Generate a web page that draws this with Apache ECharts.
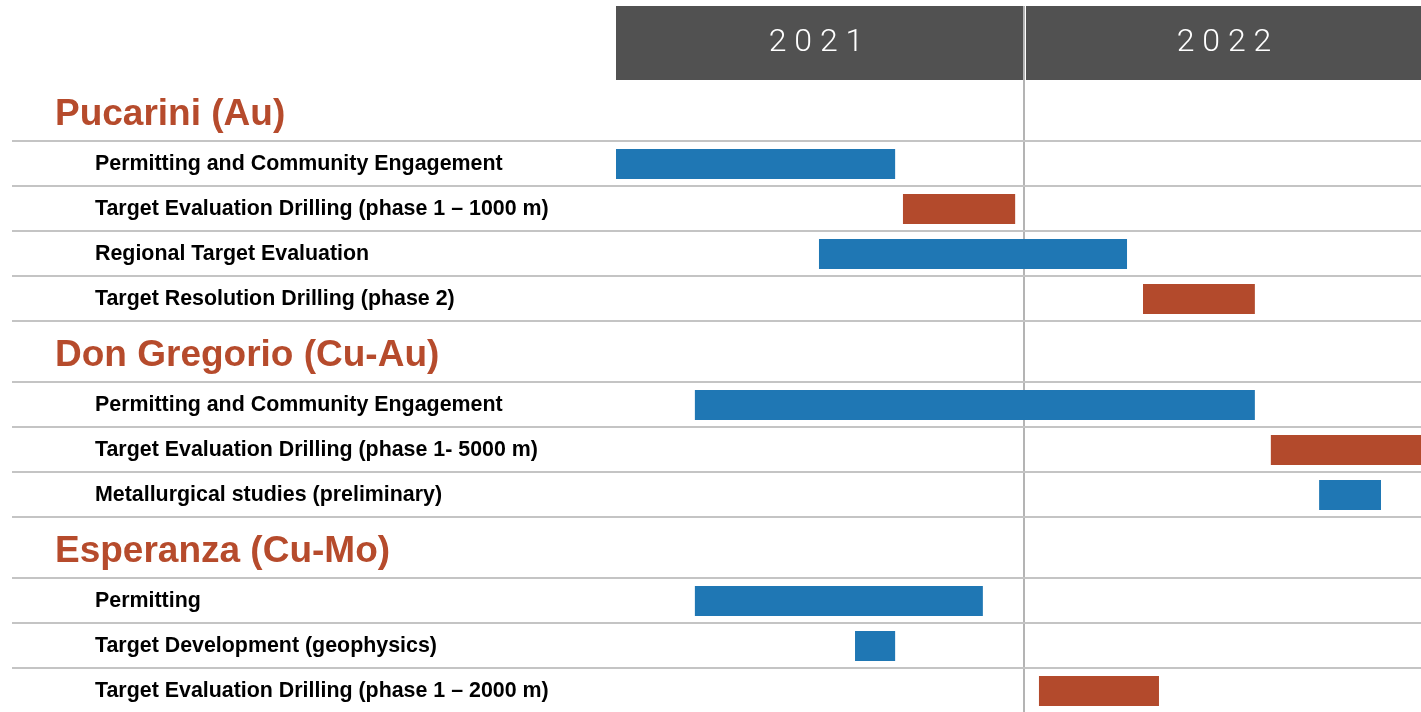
<!DOCTYPE html>
<html><head><meta charset="utf-8">
<script src="https://cdn.jsdelivr.net/npm/echarts@6/dist/echarts.min.js"></script>
<style>html,body{margin:0;padding:0;background:#fff}#chart{width:1421px;height:712px}</style>
</head><body><div id="chart"></div>
<script>
// ---- data ----
const years = ['2021', '2022'];
const yearStart = [0, 12];   // months from Jan 2021
const yearEnd = [12, 24];
const groups = ['Pucarini (Au)', 'Don Gregorio (Cu-Au)', 'Esperanza (Cu-Mo)'];
const tasks = [
  'Permitting and Community Engagement',
  'Target Evaluation Drilling (phase 1 – 1000 m)',
  'Regional Target Evaluation',
  'Target Resolution Drilling (phase 2)',
  'Permitting and Community Engagement',
  'Target Evaluation Drilling (phase 1- 5000 m)',
  'Metallurgical studies (preliminary)',
  'Permitting',
  'Target Development (geophysics)',
  'Target Evaluation Drilling (phase 1 – 2000 m)'
];
const taskGroup = [0, 0, 0, 0, 1, 1, 1, 2, 2, 2];
const taskStart = [0, 8.44, 5.97, 15.5, 2.32, 19.26, 20.68, 2.32, 7.03, 12.44];
const taskEnd = [8.21, 11.74, 15.03, 18.79, 18.79, 24, 22.5, 10.79, 8.21, 15.97];
const taskKind = ['activity', 'drilling', 'activity', 'drilling', 'activity', 'drilling', 'activity', 'activity', 'activity', 'drilling'];

// ---- layout helpers ----
const PX_PER_MONTH = 34, LEFT = 616, W = 1421, H = 712, TOP = 80;
const VIEW_MONTHS = (W - LEFT) / PX_PER_MONTH;     // visible part of the timeline
const HEAD = 61 / 45, TASK = 1, UNIT_PX = 45;
const rows = [];
let acc = 0;
groups.forEach((g, gi) => {
  rows.push({ kind: 'group', label: g, top: acc, h: HEAD }); acc += HEAD;
  tasks.forEach((t, ti) => {
    if (taskGroup[ti] === gi) { rows.push({ kind: 'task', label: t, top: acc, h: TASK, ti }); acc += TASK; }
  });
});
const VIEW_ROWS = (H - TOP) / UNIT_PX;
const taskRowMid = [];
rows.forEach(r => { if (r.kind === 'task') taskRowMid[r.ti] = r.top + r.h / 2; });

const BLUE = '#1f77b4', RED = '#b34a2c', TITLE = '#b64b2c', HEADER = '#515151', LINE = '#c4c4c4';

const chart = echarts.init(document.getElementById('chart'), null, { renderer: 'canvas' });
chart.setOption({
  animation: false,
  backgroundColor: '#ffffff',
  grid: [
    { left: LEFT, top: 6, right: 0, height: 74 },
    { left: LEFT, top: TOP, right: 0, bottom: 0 }
  ],
  xAxis: [
    { gridIndex: 0, type: 'value', min: 0, max: VIEW_MONTHS, show: false },
    { gridIndex: 1, type: 'value', min: 0, max: VIEW_MONTHS, show: false }
  ],
  yAxis: [
    { gridIndex: 0, type: 'value', min: 0, max: 1, show: false },
    { gridIndex: 1, type: 'value', min: 0, max: VIEW_ROWS, inverse: true, show: false }
  ],
  series: [
    {
      type: 'custom', name: 'years', xAxisIndex: 0, yAxisIndex: 0, silent: true, clip: false,
      data: years.map((y, i) => [yearStart[i], yearEnd[i]]),
      renderItem: (params, api) => {
        const i = params.dataIndex;
        const p0 = api.coord([api.value(0), 1]);
        const p1 = api.coord([api.value(1), 0]);
        const x0 = p0[0] + (api.value(0) > 0 ? 2 : 0);
        const x1 = p1[0] - 1;
        return {
          type: 'group', children: [
            { type: 'rect', shape: { x: x0, y: p0[1], width: x1 - x0, height: p1[1] - p0[1] }, style: { fill: HEADER } },
            { type: 'text', style: {
                text: years[i].split('').join(' '), x: (p0[0] + p1[0]) / 2 - 4, y: (p0[1] + p1[1]) / 2,
                align: 'center', verticalAlign: 'middle', fill: '#ffffff',
                fontFamily: 'Roboto', fontWeight: 300, fontSize: 32 } }
          ]
        };
      }
    },
    {
      type: 'custom', name: 'boundary', xAxisIndex: 1, yAxisIndex: 1, silent: true, z: 1, clip: false,
      data: yearStart.filter(v => v > 0).map(v => [v, 0]),
      renderItem: (params, api) => {
        const x = api.coord([api.value(0), 0])[0];
        return { type: 'line', shape: { x1: x, y1: 6, x2: x, y2: api.getHeight() },
                 style: { stroke: '#b4b4b4', lineWidth: 2 } };
      }
    },
    {
      type: 'custom', name: 'rows', xAxisIndex: 1, yAxisIndex: 1, silent: true, z: 2, clip: false,
      data: rows.map(r => [0, r.top]),
      renderItem: (params, api) => {
        const r = rows[params.dataIndex];
        const yTop = api.coord([0, r.top])[1];
        const yBot = Math.round(api.coord([0, r.top + r.h])[1]);
        const isG = r.kind === 'group';
        return {
          type: 'group', children: [
            { type: 'line', shape: { x1: 12, y1: yBot, x2: api.getWidth(), y2: yBot },
              style: { stroke: LINE, lineWidth: 2 } },
            { type: 'text', style: {
                text: r.label, x: isG ? 55 : 95, y: (yTop + yBot) / 2 + (isG ? 4 : 1),
                align: 'left', verticalAlign: 'middle', fill: isG ? TITLE : '#000000',
                fontFamily: 'Liberation Sans', fontWeight: 'bold', fontSize: isG ? 37 : 21.4 } }
          ]
        };
      }
    },
    {
      type: 'custom', name: 'tasks', xAxisIndex: 1, yAxisIndex: 1, z: 3, clip: false,
      data: tasks.map((t, i) => [taskStart[i], taskEnd[i], taskRowMid[i]]),
      renderItem: (params, api) => {
        const i = params.dataIndex;
        const a = api.coord([api.value(0), api.value(2)]);
        const b = api.coord([api.value(1), api.value(2)]);
        const h = 30;
        return { type: 'rect', shape: { x: a[0], y: Math.round(a[1] - h / 2), width: b[0] - a[0], height: h },
                 style: { fill: taskKind[i] === 'drilling' ? RED : BLUE } };
      }
    }
  ]
});
</script></body></html>
